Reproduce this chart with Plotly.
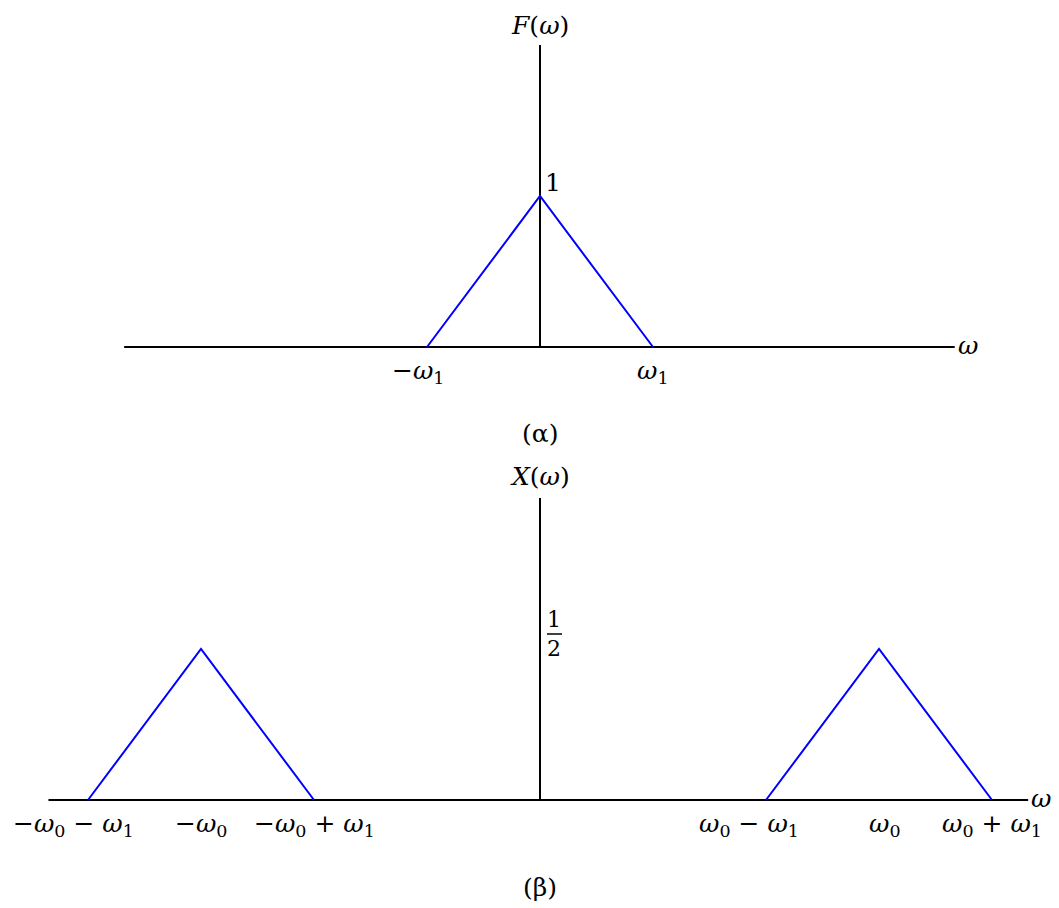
import plotly.graph_objects as go

# Spectrum parameters (in units of omega_1)
omega1 = 1.0
omega0 = 3.0

# F(omega): triangular spectrum of the baseband signal
f_w = [-omega1, 0.0, omega1]
f_val = [0.0, 1.0, 0.0]

# X(omega): spectrum shifted to +/- omega0, half amplitude
x_w_left = [-omega0 - omega1, -omega0, -omega0 + omega1]
x_w_right = [omega0 - omega1, omega0, omega0 + omega1]
x_val = [0.0, 0.5, 0.0]

# Axis extents for each panel
top_axis_w = [-3.68, 3.67]
top_axis_v = [0.0, 2.0]
bot_axis_w = [-4.35, 4.32]
bot_axis_v = [0.0, 1.0]

# Tick labels
top_ticks = [-omega1, omega1]
top_tick_text = ["−<i>ω</i><sub>1</sub>", "<i>ω</i><sub>1</sub>"]
top_tick_shift = [-9, 0]
bot_ticks = [-omega0 - omega1, -omega0, -omega0 + omega1,
             omega0 - omega1, omega0, omega0 + omega1]
bot_tick_text = ["−<i>ω</i><sub>0</sub> − <i>ω</i><sub>1</sub>",
                 "−<i>ω</i><sub>0</sub>",
                 "−<i>ω</i><sub>0</sub> + <i>ω</i><sub>1</sub>",
                 "<i>ω</i><sub>0</sub> − <i>ω</i><sub>1</sub>",
                 "<i>ω</i><sub>0</sub>",
                 "<i>ω</i><sub>0</sub> + <i>ω</i><sub>1</sub>"]
bot_tick_shift = [-15, 0, 0, -17, 6, 0]

FONT = "DejaVu Serif"
FS = 25
BLACK = "#000000"
BLUE = "#0000ff"

fig = go.Figure()

# Panel (a)
fig.add_trace(go.Scatter(x=top_axis_w, y=[0, 0], mode="lines",
                         line=dict(color=BLACK, width=2), xaxis="x", yaxis="y"))
fig.add_trace(go.Scatter(x=[0, 0], y=top_axis_v, mode="lines",
                         line=dict(color=BLACK, width=2), xaxis="x", yaxis="y"))
fig.add_trace(go.Scatter(x=f_w, y=f_val, mode="lines",
                         line=dict(color=BLUE, width=2), xaxis="x", yaxis="y"))

# Panel (b)
fig.add_trace(go.Scatter(x=bot_axis_w, y=[0, 0], mode="lines",
                         line=dict(color=BLACK, width=2), xaxis="x2", yaxis="y2"))
fig.add_trace(go.Scatter(x=[0, 0], y=bot_axis_v, mode="lines",
                         line=dict(color=BLACK, width=2), xaxis="x2", yaxis="y2"))
fig.add_trace(go.Scatter(x=x_w_left, y=x_val, mode="lines",
                         line=dict(color=BLUE, width=2), xaxis="x2", yaxis="y2"))
fig.add_trace(go.Scatter(x=x_w_right, y=x_val, mode="lines",
                         line=dict(color=BLUE, width=2), xaxis="x2", yaxis="y2"))

ann = []
font = dict(family=FONT, size=FS, color=BLACK)

# Panel (a) labels
ann.append(dict(x=0, y=top_axis_v[1], xref="x", yref="y", text="<i>F</i>(<i>ω</i>)",
                showarrow=False, xanchor="center", yanchor="middle", yshift=20, font=font))
ann.append(dict(x=top_axis_w[1], y=0, xref="x", yref="y", text="<i>ω</i>",
                showarrow=False, xanchor="left", yanchor="middle", xshift=1, yshift=2, font=font))
ann.append(dict(x=0, y=max(f_val), xref="x", yref="y", text="1",
                showarrow=False, xanchor="left", yanchor="middle", xshift=3, yshift=14, font=font))
for t, s, dx in zip(top_ticks, top_tick_text, top_tick_shift):
    ann.append(dict(x=t, y=0, xref="x", yref="y", text=s, showarrow=False,
                    xanchor="center", yanchor="middle", xshift=dx, yshift=-25, font=font))
ann.append(dict(x=0, y=1 - 433 / 908, xref="x", yref="paper", text="(α)",
                showarrow=False, xanchor="center", yanchor="middle", font=font))

# Panel (b) labels
ann.append(dict(x=0, y=bot_axis_v[1], xref="x2", yref="y2", text="<i>X</i>(<i>ω</i>)",
                showarrow=False, xanchor="center", yanchor="middle", yshift=22, font=font))
ann.append(dict(x=bot_axis_w[1], y=0, xref="x2", yref="y2", text="<i>ω</i>",
                showarrow=False, xanchor="left", yanchor="middle", xshift=1, yshift=2, font=font))
# Stacked 1 over 2 for the fraction 1/2
ann.append(dict(x=0, y=max(x_val), xref="x2", yref="y2", text="1<br>2",
                showarrow=False, xanchor="center", yanchor="middle", align="center",
                xshift=14, yshift=15, font=dict(family=FONT, size=22, color=BLACK)))
for t, s, dx in zip(bot_ticks, bot_tick_text, bot_tick_shift):
    ann.append(dict(x=t, y=0, xref="x2", yref="y2", text=s, showarrow=False,
                    xanchor="center", yanchor="middle", xshift=dx, yshift=-25, font=font))
ann.append(dict(x=0, y=1 - 887 / 908, xref="x2", yref="paper", text="(β)",
                showarrow=False, xanchor="center", yanchor="middle", font=font))

# Fraction bar for 1/2
shapes = [dict(type="line", xref="x2", yref="y2", xsizemode="pixel", ysizemode="pixel",
               xanchor=0, yanchor=max(x_val), x0=7, x1=22, y0=15, y1=15,
               line=dict(color=BLACK, width=1.5))]

W, H = 1059, 908
xr = [-540 / 113, (W - 540) / 113]
hidden = dict(visible=False, showgrid=False, zeroline=False, fixedrange=True)
fig.update_layout(
    width=W, height=H, margin=dict(l=0, r=0, t=0, b=0),
    paper_bgcolor="white", plot_bgcolor="white", showlegend=False,
    xaxis=dict(range=xr, domain=[0, 1], anchor="y", **hidden),
    yaxis=dict(range=[(347 - 454) / 151, 347 / 151], domain=[0.5, 1], anchor="x", **hidden),
    xaxis2=dict(range=xr, domain=[0, 1], anchor="y2", **hidden),
    yaxis2=dict(range=[(800 - 908) / 302, (800 - 454) / 302], domain=[0, 0.5], anchor="x2", **hidden),
    annotations=ann, shapes=shapes,
)

fig.write_html("out.html")
